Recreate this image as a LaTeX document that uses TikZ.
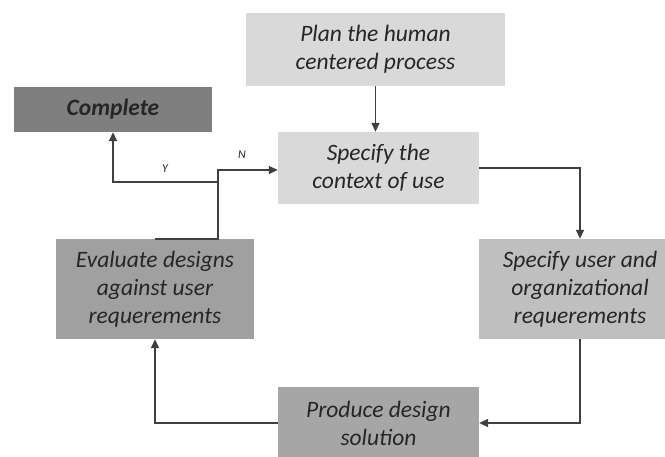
\documentclass[tikz,border=0pt]{standalone}
\usepackage{fontspec}
\setmainfont{Carlito}
\usetikzlibrary{arrows.meta}
\definecolor{lightbox}{HTML}{D9D9D9}
\definecolor{midbox}{HTML}{BFBFBF}
\definecolor{darkbox}{HTML}{A6A6A6}
\definecolor{evalbox}{HTML}{A0A0A0}
\definecolor{compbox}{HTML}{7F7F7F}
\definecolor{textgray}{HTML}{262626}
\definecolor{linegray}{HTML}{404040}
\begin{document}
\begin{tikzpicture}[x=1pt,y=-1pt,
  box/.style={inner sep=0pt, align=center, font=\fontsize{23.5}{28}\selectfont\itshape, text=textgray},
  conn/.style={draw=linegray, line width=1.5pt},
  arr/.style={conn, -{Triangle[length=9pt,width=8pt]}},
  lbl/.style={inner sep=0pt, font=\fontsize{12}{14}\selectfont\itshape, text=textgray}]
\useasboundingbox (0,0) rectangle (665,456);
\clip (0,0) rectangle (665,456);
\fill[white] (0,0) rectangle (665,456);
\node[box, fill=lightbox, minimum width=259pt, minimum height=73pt] (plan) at (375.5,49.5) {Plan the human\\centered process};
\node[box, fill=compbox, minimum width=198pt, minimum height=45pt, font=\fontsize{23.5}{28}\selectfont\bfseries\itshape, text=black!85] (complete) at (113,109.5) {Complete};
\node[box, fill=lightbox, minimum width=201pt, minimum height=72pt] (context) at (378.5,168) {Specify the\\context of use};
\node[box, fill=midbox, minimum width=202pt, minimum height=100pt] (spec) at (580,289) {Specify user and\\organizational\\requerements};
\node[box, fill=evalbox, minimum width=198pt, minimum height=100pt] (eval) at (155,289) {Evaluate designs\\against user\\requerements};
\node[box, fill=darkbox, minimum width=201pt, minimum height=72pt] (produce) at (378.5,423) {Produce design\\solution};
\coordinate (turn) at (218,170);
\coordinate (ybr) at (218,182);
\draw[arr] (plan.south) -- (plan.south |- context.north);
\draw[arr] (context.east) -| (spec.north);
\draw[arr] (spec.south) |- (produce.east);
\draw[arr] (produce.west) -| (eval.south);
\draw[arr] (eval.north) -| (turn) -- (turn -| context.west);
\draw[arr] (ybr) -| (complete.south);
\node[lbl] (nlab) at (242,155) {N};
\node[lbl] (ylab) at (165,169) {Y};
\end{tikzpicture}
\end{document}
